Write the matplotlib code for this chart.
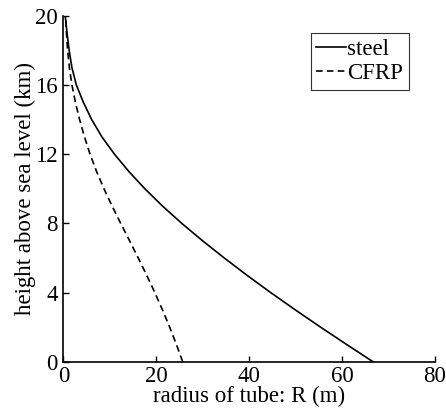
import matplotlib
matplotlib.use("Agg")
import matplotlib.pyplot as plt

heights = [0, 1, 2, 3, 4, 5, 6, 7, 8, 9, 10, 11, 12, 13, 14, 15, 16, 17, 18, 19, 19.5, 20]
steel_r = [66.7, 61.0, 55.4, 49.95, 44.65, 39.55, 34.65, 29.95, 25.5, 21.35, 17.55, 14.1, 11.0, 8.3, 6.1, 4.3, 2.8, 1.85, 1.25, 0.8, 0.6, 0.4]
cfrp_r = [25.7, 24.35, 22.9, 21.35, 19.7, 17.95, 16.13, 14.25, 12.35, 10.5, 8.75, 7.15, 5.75, 4.55, 3.5, 2.6, 1.85, 1.3, 0.92, 0.67, 0.58, 0.52]

x_ticks = [0, 20, 40, 60, 80]
y_ticks = [0, 4, 8, 12, 16, 20]

plt.rcParams['font.family'] = ['Liberation Serif', 'DejaVu Serif']

fig = plt.figure(figsize=(4.46, 4.13), dpi=100)
ax = fig.add_axes([0.142, 0.124, 0.833, 0.838])

ax.plot(steel_r, heights, color='black', linewidth=1.2, linestyle='-', label='steel')
ax.plot(cfrp_r, heights, color='black', linewidth=1.2, linestyle=(0, (4, 2.5)), label='CFRP')

ax.set_xlim(0, 80)
ax.set_ylim(0, 20)
ax.set_xticks(x_ticks)
ax.set_yticks(y_ticks)
ax.tick_params(direction='in', length=4, width=1, labelsize=16.5)
ax.tick_params(axis='y', pad=4)
ax.tick_params(axis='x', pad=3)
for s in ['top', 'right']:
    ax.spines[s].set_visible(False)
for s in ['left', 'bottom']:
    ax.spines[s].set_linewidth(1.2)

ax.set_xlabel('radius of tube: R (m)', fontsize=16.5, labelpad=-1)
ax.set_ylabel('height above sea level (km)', fontsize=16.5, labelpad=-1)

leg = ax.legend(loc='upper right', bbox_to_anchor=(0.93, 0.95), fontsize=16.5,
                frameon=True, fancybox=False, edgecolor='black',
                handlelength=1.3, handletextpad=0.05, borderpad=0.25,
                labelspacing=0.15, borderaxespad=0)
leg.get_frame().set_linewidth(0.8)

fig.savefig('out.png', dpi=100)
